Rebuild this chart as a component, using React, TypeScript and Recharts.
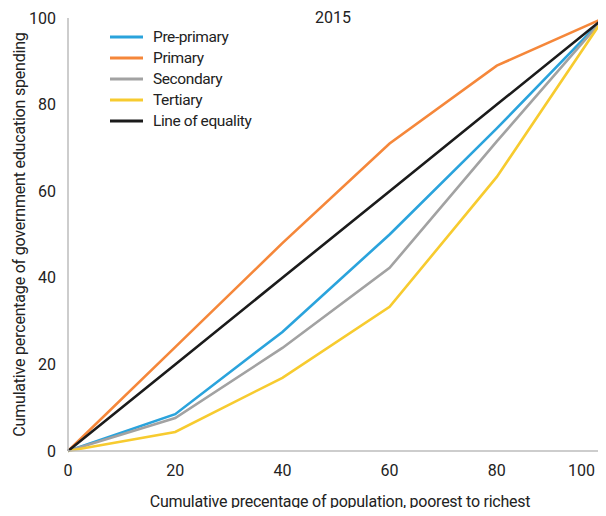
import React from "react";
import { LineChart, Line, XAxis, YAxis, Customized } from "recharts";

const populationShare = [0, 20, 40, 60, 80, 100];
const prePrimary = [0, 8.5, 27.5, 50, 74.5, 100];
const primary = [0, 24, 48, 71, 89, 100];
const secondary = [0, 7.6, 23.8, 42.3, 71.5, 100];
const tertiary = [0, 4.4, 16.9, 33.3, 63.3, 100];
const equality = [0, 20, 40, 60, 80, 100];
const axisTicks = [0, 20, 40, 60, 80, 100];
const chartTitle = "2015";

const seriesDefs = [
  { key: "pre", name: "Pre-primary", color: "#2aa3dc", values: prePrimary },
  { key: "pri", name: "Primary", color: "#f5873a", values: primary },
  { key: "sec", name: "Secondary", color: "#a2a2a2", values: secondary },
  { key: "ter", name: "Tertiary", color: "#f7cb2f", values: tertiary },
  { key: "eq", name: "Line of equality", color: "#1b1b1b", values: equality },
];

const data = populationShare.map((x, i) => {
  const row: Record<string, number> = { x };
  seriesDefs.forEach((s) => {
    row[s.key] = s.values[i];
  });
  return row;
});

const FONT = "Roboto, 'Noto Sans', sans-serif";
const TEXT = "#222";

const LegendSvg = () => (
  <g>
    {seriesDefs.map((s, i) => {
      const y = 37 + i * 21;
      return (
        <g key={s.key}>
          <line x1={110} x2={143} y1={y} y2={y} stroke={s.color} strokeWidth={3} />
          <text
            x={153}
            y={y}
            dy="0.35em"
            fontFamily={FONT}
            fontSize={15.5}
            fill={TEXT}
            letterSpacing={-0.4}
          >
            {s.name}
          </text>
        </g>
      );
    })}
  </g>
);

const Title = () => (
  <text x={333} y={23} textAnchor="middle" fontFamily={FONT} fontSize={16} fill={TEXT}>
    {chartTitle}
  </text>
);

const XTick = (props: any) => {
  const { x, y, payload, index } = props;
  const last = index === axisTicks.length - 1;
  return (
    <text
      x={last ? x + 1 : x}
      y={y}
      dy="0.71em"
      textAnchor={last ? "end" : "middle"}
      fontFamily={FONT}
      fontSize={16}
      fill={TEXT}
    >
      {payload.value}
    </text>
  );
};

export default function App() {
  return (
    <div style={{ margin: -8 }}>
      <LineChart
        width={606}
        height={516}
        data={data}
        margin={{ top: 18, right: 2, left: 0, bottom: 35 }}
      >
        <XAxis
          dataKey="x"
          type="number"
          domain={[0, 100]}
          ticks={axisTicks}
          tickLine={false}
          axisLine={{ stroke: "#bdbdbd", strokeWidth: 1.5 }}
          tick={<XTick />}
          tickMargin={8}
          height={30}
          label={{
            value: "Cumulative precentage of population, poorest to richest",
            position: "insideBottom",
            offset: -26,
            dx: 4,
            fill: TEXT,
            fontSize: 16,
            fontFamily: FONT,
            letterSpacing: -0.25,
          }}
        />
        <YAxis
          type="number"
          domain={[0, 100]}
          ticks={axisTicks}
          tickLine={false}
          axisLine={{ stroke: "#bdbdbd", strokeWidth: 1.5 }}
          tick={{ fill: TEXT, fontSize: 16, fontFamily: FONT }}
          tickMargin={6}
          width={68}
          label={{
            value: "Cumulative percentage of government education spending",
            angle: -90,
            position: "insideLeft",
            offset: 19,
            fill: TEXT,
            fontSize: 16,
            fontFamily: FONT,
            letterSpacing: -0.2,
            style: { textAnchor: "middle" },
          }}
        />
        {seriesDefs.map((s) => (
          <Line
            key={s.key}
            type="linear"
            dataKey={s.key}
            name={s.name}
            stroke={s.color}
            strokeWidth={2.6}
            dot={false}
            activeDot={false}
            isAnimationActive={false}
          />
        ))}
        <Customized component={LegendSvg} />
        <Customized component={Title} />
      </LineChart>
    </div>
  );
}
